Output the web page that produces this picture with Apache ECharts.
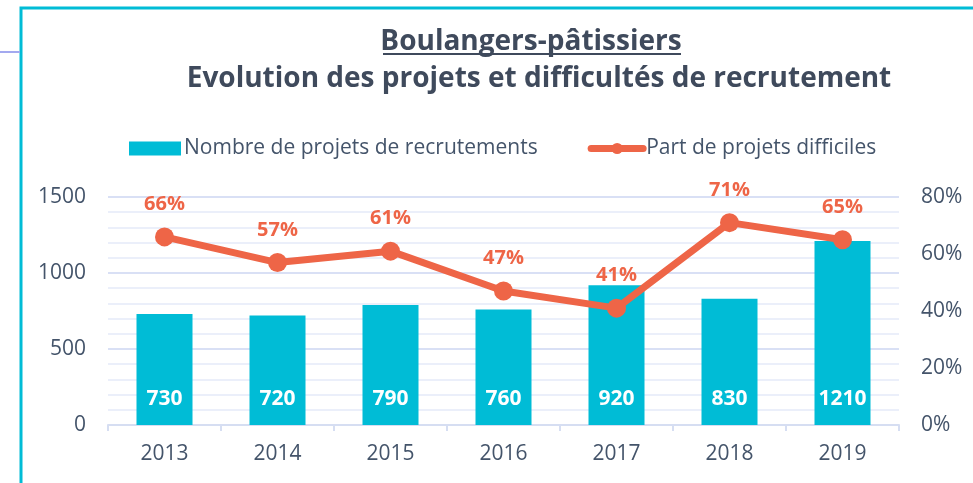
<!DOCTYPE html>
<html>
<head>
<meta charset="utf-8">
<script src="https://cdn.jsdelivr.net/npm/echarts@6/dist/echarts.min.js"></script>
<style>
  html, body { margin: 0; padding: 0; background: #fff; }
  #chart { width: 973px; height: 483px; }
</style>
</head>
<body>
<div id="chart"></div>
<script>
  const years = ['2013', '2014', '2015', '2016', '2017', '2018', '2019'];
  const projets = [730, 720, 790, 760, 920, 830, 1210];
  const partDifficiles = [0.66, 0.57, 0.61, 0.47, 0.41, 0.71, 0.65];

  const font = 'Open Sans';
  const textColor = '#44546a';
  const cyan = '#00bcd6';
  const orange = '#ee6547';

  let myChart = echarts.init(document.getElementById('chart'));

  const option = {
    textStyle: { fontFamily: font },
    title: [
      {
        text: 'Boulangers-pâtissiers',
        left: 526, top: 23, textAlign: 'center',
        textStyle: { fontFamily: font, fontSize: 28, fontWeight: 'bold', color: '#3f4a5c' }
      },
      {
        text: 'Evolution des projets et difficultés de recrutement',
        left: 534, top: 60, textAlign: 'center',
        textStyle: { fontFamily: font, fontSize: 28, fontWeight: 'bold', color: '#3f4a5c' }
      }
    ],
    graphic: [
      // cadre
      { type: 'rect', shape: { x: 21, y: 8, width: 1000, height: 500 }, style: { fill: 'none', stroke: cyan, lineWidth: 3 }, silent: true },
      { type: 'line', shape: { x1: 0, y1: 52, x2: 20, y2: 52 }, style: { stroke: '#a3a9ef', lineWidth: 2 }, silent: true },
      // soulignement du titre
      { type: 'line', shape: { x1: 383, y1: 54, x2: 681, y2: 54 }, style: { stroke: '#3f4a5c', lineWidth: 2 }, silent: true }
    ],
    legend: {
      left: 129, top: 138, padding: 0,
      itemWidth: 52, itemHeight: 14, itemGap: 50,
      textStyle: { fontFamily: font, fontSize: 21, color: textColor, padding: [0, 0, 0, -2] },
      data: [
        { name: 'Nombre de projets de recrutements', icon: 'rect' },
        { name: 'Part de projets difficiles', itemStyle: { color: orange }, lineStyle: { width: 7, cap: 'round', color: orange } }
      ]
    },
    grid: { left: 108, right: 74, top: 197, bottom: 58 },
    xAxis: {
      type: 'category',
      data: years,
      axisLine: { lineStyle: { color: '#d6def2', width: 2 } },
      axisTick: { show: true, lineStyle: { color: '#d6def2', width: 2 }, length: 6 },
      axisLabel: { fontSize: 21, color: textColor, margin: 19 }
    },
    yAxis: [
      {
        type: 'value', min: 0, max: 1500, interval: 500,
        axisLine: { show: false }, axisTick: { show: false },
        axisLabel: { fontSize: 21, color: textColor, margin: 22, formatter: (v) => String(v) },
        splitLine: { lineStyle: { color: '#d9e0f5', width: 2 } },
        minorTick: { show: false, splitNumber: 5 },
        minorSplitLine: { show: true, lineStyle: { color: '#ebeffa', width: 2 } }
      },
      {
        type: 'value', min: 0, max: 0.8, interval: 0.2,
        axisLine: { show: false }, axisTick: { show: false }, splitLine: { show: false },
        axisLabel: {
          fontSize: 21, color: textColor, margin: 22,
          formatter: (v) => Math.round(v * 100) + '%'
        }
      }
    ],
    series: [
      {
        name: 'Nombre de projets de recrutements',
        type: 'bar',
        yAxisIndex: 0,
        barWidth: 56,
        data: projets,
        itemStyle: { color: cyan },
        label: {
          show: true, position: 'insideBottom', distance: 15,
          color: '#fff', fontSize: 21, fontWeight: 'bold', fontFamily: font
        }
      },
      {
        name: 'Part de projets difficiles',
        type: 'line',
        yAxisIndex: 1,
        data: partDifficiles,
        symbol: 'circle', symbolSize: 19,
        lineStyle: { color: orange, width: 7, cap: 'round' },
        itemStyle: { color: orange },
        label: {
          show: true, position: 'top', distance: 13,
          color: orange, fontSize: 20, fontWeight: 'bold', fontFamily: font,
          formatter: (p) => Math.round(p.value * 100) + '%'
        }
      }
    ]
  };

  myChart.setOption(option);
</script>
</body>
</html>
